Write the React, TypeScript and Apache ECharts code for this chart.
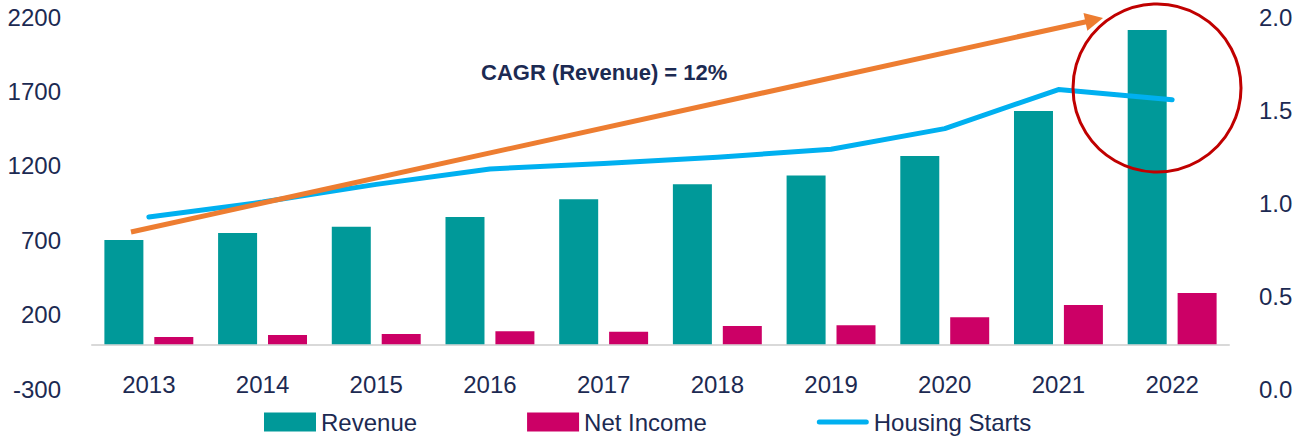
import React, { useEffect, useRef } from "react";
import * as echarts from "echarts";

const years = ["2013", "2014", "2015", "2016", "2017", "2018", "2019", "2020", "2021", "2022"];
const revenue = [702, 749, 791, 856, 975, 1076, 1134, 1266, 1568, 2113];
const netIncome = [50, 63, 70, 88, 85, 124, 128, 182, 265, 345];
const housingStarts = [0.925, 1.005, 1.1, 1.183, 1.213, 1.246, 1.289, 1.4, 1.61, 1.555];
const leftTicks = { min: -300, max: 2200, interval: 500 };
const rightTicks = { min: 0, max: 2, interval: 0.5 };
const cagrLabel = "CAGR (Revenue) = 12%";

const FONT = "'Liberation Sans', Arial, Helvetica, sans-serif";
const TEXT = "#1c2a52";
const LINE_ICON =
  "path://M2.5,0 H49.5 A2.5,2.5 0 0 1 49.5,5 H2.5 A2.5,2.5 0 0 1 2.5,0 Z";

export default function App() {
  const ref = useRef<HTMLDivElement>(null);
  useEffect(() => {
    document.body.style.margin = "0";
    if (!ref.current) return;
    const chart = echarts.init(ref.current, null, { renderer: "svg" });

    // arrow annotation geometry
    const start = [131, 232];
    const tip = [1103, 18];
    const dx = tip[0] - start[0];
    const dy = tip[1] - start[1];
    const len = Math.sqrt(dx * dx + dy * dy);
    const ux = dx / len, uy = dy / len;
    const nx = -uy, ny = ux;
    const headLen = 18, headHalf = 9;
    const bx = tip[0] - ux * headLen, by = tip[1] - uy * headLen;

    chart.setOption({
      animation: false,
      textStyle: { fontFamily: FONT },
      grid: { left: 92, right: 68, top: 17, bottom: 54, containLabel: false },
      legend: {
        left: 264,
        top: 410,
        padding: 0,
        itemWidth: 52,
        itemHeight: 19,
        itemGap: 110,
        textStyle: { fontSize: 24, color: TEXT, fontFamily: FONT },
        data: [
          { name: "Revenue", icon: "rect" },
          { name: "Net Income", icon: "rect" },
          { name: "Housing Starts", icon: LINE_ICON },
        ],
      },
      xAxis: {
        type: "category",
        data: years,
        axisTick: { show: false },
        axisLine: { show: true, onZero: true, lineStyle: { color: "#d9d9d9", width: 2 } },
        axisLabel: { fontSize: 24, color: TEXT, margin: -17, fontFamily: FONT },
      },
      yAxis: [
        {
          type: "value",
          min: leftTicks.min,
          max: leftTicks.max,
          interval: leftTicks.interval,
          splitLine: { show: false },
          axisLine: { show: false },
          axisTick: { show: false },
          axisLabel: {
            fontSize: 24,
            color: TEXT,
            margin: 31,
            fontFamily: FONT,
            formatter: (v: number) => String(v),
          },
        },
        {
          type: "value",
          min: rightTicks.min,
          max: rightTicks.max,
          interval: rightTicks.interval,
          splitLine: { show: false },
          axisLine: { show: false },
          axisTick: { show: false },
          axisLabel: {
            fontSize: 24,
            color: TEXT,
            margin: 30,
            fontFamily: FONT,
            formatter: (v: number) => v.toFixed(1),
          },
        },
      ],
      series: [
        {
          name: "Revenue",
          type: "bar",
          data: revenue,
          barWidth: 39,
          barGap: "28%",
          itemStyle: { color: "#009999" },
        },
        {
          name: "Net Income",
          type: "bar",
          data: netIncome,
          barWidth: 39,
          itemStyle: { color: "#CC0066" },
        },
        {
          name: "Housing Starts",
          type: "line",
          yAxisIndex: 1,
          data: housingStarts,
          symbol: "none",
          lineStyle: { color: "#00B0F0", width: 5, cap: "round", join: "round" },
          itemStyle: { color: "#00B0F0" },
          z: 3,
        },
      ],
      graphic: [
        {
          type: "line",
          z: 10,
          shape: { x1: start[0], y1: start[1], x2: bx + ux * 2, y2: by + uy * 2 },
          style: { stroke: "#ED7D31", lineWidth: 5 },
        },
        {
          type: "polygon",
          z: 10,
          shape: {
            points: [
              [tip[0], tip[1]],
              [bx + nx * headHalf, by + ny * headHalf],
              [bx - nx * headHalf, by - ny * headHalf],
            ],
          },
          style: { fill: "#ED7D31" },
        },
        {
          type: "circle",
          z: 10,
          shape: { cx: 1157, cy: 88, r: 84 },
          style: { fill: "none", stroke: "#C00000", lineWidth: 3 },
        },
        {
          type: "text",
          z: 10,
          left: 481,
          top: 61,
          style: {
            text: cagrLabel,
            fontSize: 22,
            fontWeight: "bold",
            fill: TEXT,
            fontFamily: FONT,
          },
        },
      ],
    });
    return () => chart.dispose();
  }, []);
  return <div ref={ref} style={{ width: 1297, height: 443 }} />;
}
